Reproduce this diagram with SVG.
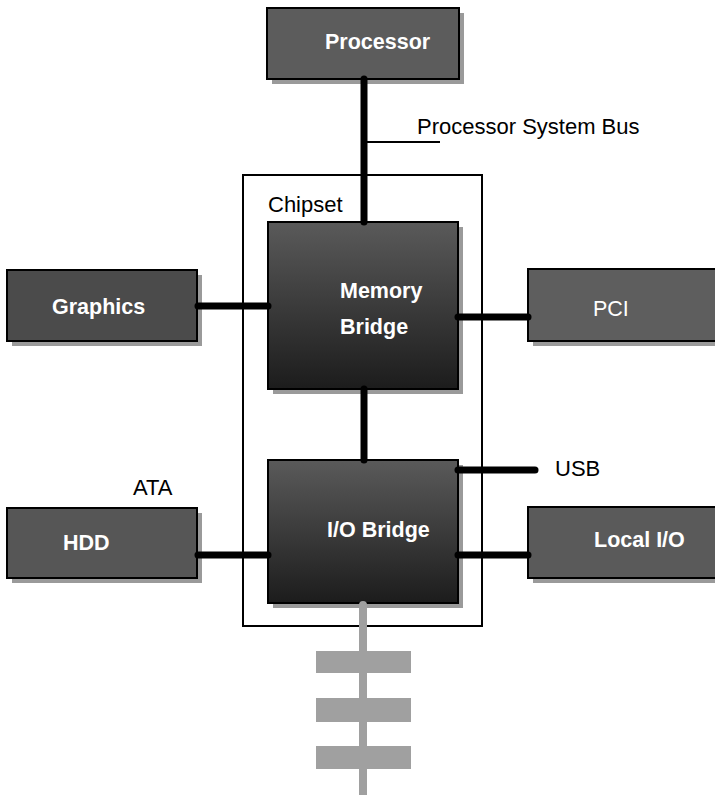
<svg xmlns="http://www.w3.org/2000/svg" width="715" height="795" viewBox="0 0 715 795">
  <defs>
    <linearGradient id="bridgeFill" x1="0" y1="0" x2="0" y2="1">
      <stop offset="0" stop-color="#5a5a5a"/>
      <stop offset="1" stop-color="#1c1c1c"/>
    </linearGradient>
  </defs>
  <style>
    .shadow { fill: #9a9a9a; }
    .box { stroke: #000; stroke-width: 2; }
    .bridge { fill: url(#bridgeFill); stroke: #000; stroke-width: 2; }
    .bold { font-family: "Liberation Sans", Arial, sans-serif; font-weight: bold; font-size: 21.5px; fill: #fff; }
    .plainw { font-family: "Liberation Sans", Arial, sans-serif; font-size: 21.5px; fill: #fff; }
    .label { font-family: "Liberation Sans", Arial, sans-serif; font-size: 22px; fill: #000; }
    .bus { stroke: #000; stroke-width: 7; stroke-linecap: round; fill: none; }
    .pbus { stroke: #a0a0a0; stroke-width: 8; stroke-linecap: round; fill: none; }
    .rung { fill: #a0a0a0; }
  </style>

  <rect width="715" height="795" fill="#fff"/>

  <!-- chipset outline -->
  <g id="chipset">
    <rect x="243" y="175" width="239" height="451" fill="none" stroke="#000" stroke-width="2"/>
    <text class="label" x="268" y="212">Chipset</text>
  </g>

  <g id="processor">
    <rect class="shadow" x="272" y="13" width="192" height="71"/>
    <rect class="box" x="267" y="8" width="192" height="71" fill="#5c5c5c"/>
    <text class="bold" x="325" y="49">Processor</text>
  </g>
  <text class="label" x="417" y="134">Processor System Bus</text>

  <g id="memory-bridge">
    <rect class="shadow" x="273" y="227" width="190" height="167"/>
    <rect class="bridge" x="268" y="222" width="190" height="167"/>
    <text class="bold" x="340" y="298">Memory</text>
    <text class="bold" x="340" y="334">Bridge</text>
  </g>

  <g id="io-bridge">
    <rect class="shadow" x="273" y="465" width="190" height="143"/>
    <rect class="bridge" x="268" y="460" width="190" height="143"/>
    <text class="bold" x="327" y="537">I/O Bridge</text>
  </g>

  <g id="graphics">
    <rect class="shadow" x="12" y="275" width="190" height="71"/>
    <rect class="box" x="7" y="270" width="190" height="71" fill="#4b4b4b"/>
    <text class="bold" x="52" y="314">Graphics</text>
  </g>

  <g id="pci">
    <rect class="shadow" x="533" y="274" width="190" height="72"/>
    <rect class="box" x="528" y="269" width="190" height="72" fill="#5e5e5e"/>
    <text class="plainw" x="593" y="316">PCI</text>
  </g>

  <g id="hdd">
    <text class="label" x="133" y="495">ATA</text>
    <rect class="shadow" x="12" y="513" width="190" height="70"/>
    <rect class="box" x="7" y="508" width="190" height="70" fill="#565656"/>
    <text class="bold" x="63" y="550">HDD</text>
  </g>

  <g id="usb">
    <text class="label" x="555" y="476">USB</text>
  </g>

  <g id="local-io">
    <rect class="shadow" x="533" y="512" width="190" height="71"/>
    <rect class="box" x="528" y="507" width="190" height="71" fill="#5a5a5a"/>
    <text class="bold" x="594" y="547">Local I/O</text>
  </g>

  <!-- peripheral bus with expansion slots -->
  <g id="expansion-bus">
    <line class="pbus" x1="363" y1="605" x2="363" y2="799"/>
    <rect class="rung" x="316" y="651" width="95" height="22"/>
    <rect class="rung" x="316" y="698" width="95" height="24"/>
    <rect class="rung" x="316" y="746" width="95" height="23"/>
  </g>

  <!-- bus connectors -->
  <g id="connectors">
    <line class="bus" x1="364" y1="79" x2="364" y2="222"/>
    <line class="bus" x1="198" y1="306" x2="268" y2="306"/>
    <line class="bus" x1="458" y1="317" x2="528" y2="317"/>
    <line class="bus" x1="364" y1="389" x2="364" y2="460"/>
    <line class="bus" x1="458" y1="470" x2="535" y2="470"/>
    <line class="bus" x1="198" y1="555" x2="268" y2="555"/>
    <line class="bus" x1="458" y1="555" x2="528" y2="555"/>
    <line x1="366" y1="142" x2="440" y2="142" stroke="#000" stroke-width="2"/>
  </g>
</svg>
